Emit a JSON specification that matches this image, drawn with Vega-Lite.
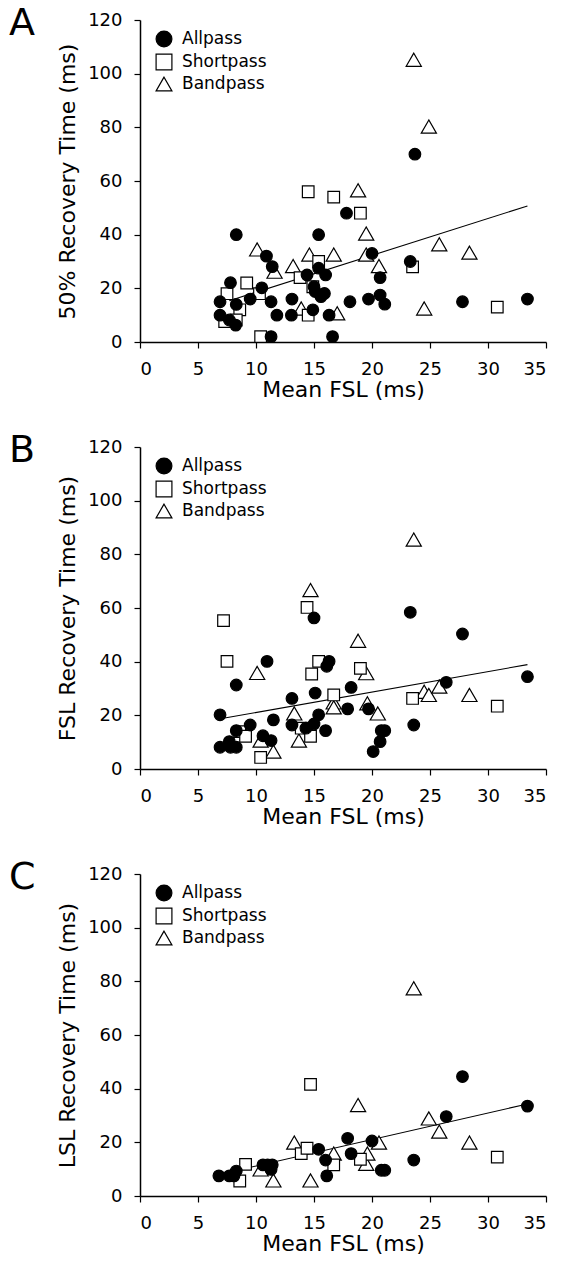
{
  "$schema": "https://vega.github.io/schema/vega-lite/v6.json",
  "padding": {"left": 9, "top": 5, "right": 5, "bottom": 5},
  "background": "white",
  "datasets": {
    "pts": [
      {"panel": "A", "group": "Shortpass", "fsl": 7.5, "rec": 18},
      {"panel": "A", "group": "Shortpass", "fsl": 7.3, "rec": 7.6},
      {"panel": "A", "group": "Shortpass", "fsl": 8.6, "rec": 12},
      {"panel": "A", "group": "Shortpass", "fsl": 8.3, "rec": 8.2},
      {"panel": "A", "group": "Shortpass", "fsl": 9.2, "rec": 22},
      {"panel": "A", "group": "Shortpass", "fsl": 10.4, "rec": 2},
      {"panel": "A", "group": "Shortpass", "fsl": 10.3, "rec": 18},
      {"panel": "A", "group": "Shortpass", "fsl": 13.8, "rec": 24},
      {"panel": "A", "group": "Shortpass", "fsl": 14.5, "rec": 56},
      {"panel": "A", "group": "Shortpass", "fsl": 14.5, "rec": 10},
      {"panel": "A", "group": "Shortpass", "fsl": 15.4, "rec": 30},
      {"panel": "A", "group": "Shortpass", "fsl": 14.9, "rec": 20.6},
      {"panel": "A", "group": "Shortpass", "fsl": 16.7, "rec": 54},
      {"panel": "A", "group": "Shortpass", "fsl": 19.0, "rec": 48},
      {"panel": "A", "group": "Shortpass", "fsl": 23.5, "rec": 28},
      {"panel": "A", "group": "Shortpass", "fsl": 30.8, "rec": 13},
      {"panel": "A", "group": "Bandpass", "fsl": 10.1, "rec": 34.5},
      {"panel": "A", "group": "Bandpass", "fsl": 11.6, "rec": 26.2},
      {"panel": "A", "group": "Bandpass", "fsl": 13.2, "rec": 28.3},
      {"panel": "A", "group": "Bandpass", "fsl": 13.9, "rec": 12.5},
      {"panel": "A", "group": "Bandpass", "fsl": 14.6, "rec": 32.6},
      {"panel": "A", "group": "Bandpass", "fsl": 16.7, "rec": 32.6},
      {"panel": "A", "group": "Bandpass", "fsl": 17.0, "rec": 10.7},
      {"panel": "A", "group": "Bandpass", "fsl": 18.8, "rec": 56.5},
      {"panel": "A", "group": "Bandpass", "fsl": 19.5, "rec": 40.4},
      {"panel": "A", "group": "Bandpass", "fsl": 19.5, "rec": 32.6},
      {"panel": "A", "group": "Bandpass", "fsl": 20.6, "rec": 28.3},
      {"panel": "A", "group": "Bandpass", "fsl": 23.6, "rec": 105.2},
      {"panel": "A", "group": "Bandpass", "fsl": 24.9, "rec": 80.3},
      {"panel": "A", "group": "Bandpass", "fsl": 24.5, "rec": 12.5},
      {"panel": "A", "group": "Bandpass", "fsl": 25.8, "rec": 36.4},
      {"panel": "A", "group": "Bandpass", "fsl": 28.4, "rec": 33.3},
      {"panel": "A", "group": "Allpass", "fsl": 6.9, "rec": 10},
      {"panel": "A", "group": "Allpass", "fsl": 6.9, "rec": 15},
      {"panel": "A", "group": "Allpass", "fsl": 7.7, "rec": 8.2},
      {"panel": "A", "group": "Allpass", "fsl": 8.25, "rec": 6.3},
      {"panel": "A", "group": "Allpass", "fsl": 7.8, "rec": 22.1},
      {"panel": "A", "group": "Allpass", "fsl": 8.3, "rec": 40},
      {"panel": "A", "group": "Allpass", "fsl": 8.3, "rec": 14},
      {"panel": "A", "group": "Allpass", "fsl": 9.5, "rec": 16},
      {"panel": "A", "group": "Allpass", "fsl": 10.5, "rec": 20.2},
      {"panel": "A", "group": "Allpass", "fsl": 10.9, "rec": 32},
      {"panel": "A", "group": "Allpass", "fsl": 11.4, "rec": 28.1},
      {"panel": "A", "group": "Allpass", "fsl": 11.3, "rec": 15},
      {"panel": "A", "group": "Allpass", "fsl": 11.3, "rec": 2},
      {"panel": "A", "group": "Allpass", "fsl": 11.8, "rec": 10},
      {"panel": "A", "group": "Allpass", "fsl": 13.1, "rec": 16},
      {"panel": "A", "group": "Allpass", "fsl": 13.05, "rec": 10},
      {"panel": "A", "group": "Allpass", "fsl": 14.4, "rec": 25},
      {"panel": "A", "group": "Allpass", "fsl": 14.9, "rec": 12},
      {"panel": "A", "group": "Allpass", "fsl": 15.4, "rec": 40},
      {"panel": "A", "group": "Allpass", "fsl": 15.4, "rec": 27.5},
      {"panel": "A", "group": "Allpass", "fsl": 15.0, "rec": 20.6},
      {"panel": "A", "group": "Allpass", "fsl": 15.1, "rec": 18.8},
      {"panel": "A", "group": "Allpass", "fsl": 15.6, "rec": 16.9},
      {"panel": "A", "group": "Allpass", "fsl": 15.9, "rec": 18.1},
      {"panel": "A", "group": "Allpass", "fsl": 16.0, "rec": 25},
      {"panel": "A", "group": "Allpass", "fsl": 16.3, "rec": 10},
      {"panel": "A", "group": "Allpass", "fsl": 16.6, "rec": 2},
      {"panel": "A", "group": "Allpass", "fsl": 17.8, "rec": 48},
      {"panel": "A", "group": "Allpass", "fsl": 18.1, "rec": 15},
      {"panel": "A", "group": "Allpass", "fsl": 19.7, "rec": 16},
      {"panel": "A", "group": "Allpass", "fsl": 20.0, "rec": 33},
      {"panel": "A", "group": "Allpass", "fsl": 20.7, "rec": 24},
      {"panel": "A", "group": "Allpass", "fsl": 20.7, "rec": 17.5},
      {"panel": "A", "group": "Allpass", "fsl": 21.1, "rec": 14.1},
      {"panel": "A", "group": "Allpass", "fsl": 23.3, "rec": 30},
      {"panel": "A", "group": "Allpass", "fsl": 23.7, "rec": 70},
      {"panel": "A", "group": "Allpass", "fsl": 27.8, "rec": 15},
      {"panel": "A", "group": "Allpass", "fsl": 33.4, "rec": 16},

      {"panel": "B", "group": "Shortpass", "fsl": 7.2, "rec": 55.3},
      {"panel": "B", "group": "Shortpass", "fsl": 7.5, "rec": 40.1},
      {"panel": "B", "group": "Shortpass", "fsl": 8.6, "rec": 13.9},
      {"panel": "B", "group": "Shortpass", "fsl": 9.1, "rec": 12.2},
      {"panel": "B", "group": "Shortpass", "fsl": 10.4, "rec": 4.3},
      {"panel": "B", "group": "Shortpass", "fsl": 13.9, "rec": 15.2},
      {"panel": "B", "group": "Shortpass", "fsl": 14.4, "rec": 60.2},
      {"panel": "B", "group": "Shortpass", "fsl": 14.8, "rec": 35.4},
      {"panel": "B", "group": "Shortpass", "fsl": 15.4, "rec": 40.1},
      {"panel": "B", "group": "Shortpass", "fsl": 14.7, "rec": 12.2},
      {"panel": "B", "group": "Shortpass", "fsl": 16.7, "rec": 27.6},
      {"panel": "B", "group": "Shortpass", "fsl": 19.0, "rec": 37.5},
      {"panel": "B", "group": "Shortpass", "fsl": 23.5, "rec": 26.3},
      {"panel": "B", "group": "Shortpass", "fsl": 30.8, "rec": 23.4},
      {"panel": "B", "group": "Bandpass", "fsl": 10.1, "rec": 35.8},
      {"panel": "B", "group": "Bandpass", "fsl": 10.4, "rec": 10.6},
      {"panel": "B", "group": "Bandpass", "fsl": 11.5, "rec": 6.5},
      {"panel": "B", "group": "Bandpass", "fsl": 13.3, "rec": 20.7},
      {"panel": "B", "group": "Bandpass", "fsl": 13.7, "rec": 10.6},
      {"panel": "B", "group": "Bandpass", "fsl": 14.7, "rec": 66.7},
      {"panel": "B", "group": "Bandpass", "fsl": 16.7, "rec": 24.8},
      {"panel": "B", "group": "Bandpass", "fsl": 16.7, "rec": 23},
      {"panel": "B", "group": "Bandpass", "fsl": 18.8, "rec": 47.8},
      {"panel": "B", "group": "Bandpass", "fsl": 19.5, "rec": 35.7},
      {"panel": "B", "group": "Bandpass", "fsl": 19.6, "rec": 24.5},
      {"panel": "B", "group": "Bandpass", "fsl": 20.5, "rec": 20.7},
      {"panel": "B", "group": "Bandpass", "fsl": 23.6, "rec": 85.5},
      {"panel": "B", "group": "Bandpass", "fsl": 24.5, "rec": 28.8},
      {"panel": "B", "group": "Bandpass", "fsl": 24.9, "rec": 27.6},
      {"panel": "B", "group": "Bandpass", "fsl": 25.8, "rec": 30.7},
      {"panel": "B", "group": "Bandpass", "fsl": 28.4, "rec": 27.6},
      {"panel": "B", "group": "Allpass", "fsl": 6.9, "rec": 20.2},
      {"panel": "B", "group": "Allpass", "fsl": 6.9, "rec": 8.1},
      {"panel": "B", "group": "Allpass", "fsl": 7.7, "rec": 10.2},
      {"panel": "B", "group": "Allpass", "fsl": 7.8, "rec": 8.1},
      {"panel": "B", "group": "Allpass", "fsl": 8.3, "rec": 8.1},
      {"panel": "B", "group": "Allpass", "fsl": 8.3, "rec": 14.3},
      {"panel": "B", "group": "Allpass", "fsl": 8.3, "rec": 31.3},
      {"panel": "B", "group": "Allpass", "fsl": 9.5, "rec": 16.4},
      {"panel": "B", "group": "Allpass", "fsl": 10.95, "rec": 40.1},
      {"panel": "B", "group": "Allpass", "fsl": 10.6, "rec": 12.4},
      {"panel": "B", "group": "Allpass", "fsl": 11.3, "rec": 10.6},
      {"panel": "B", "group": "Allpass", "fsl": 11.5, "rec": 18.3},
      {"panel": "B", "group": "Allpass", "fsl": 13.1, "rec": 26.3},
      {"panel": "B", "group": "Allpass", "fsl": 13.1, "rec": 16.4},
      {"panel": "B", "group": "Allpass", "fsl": 14.3, "rec": 15.2},
      {"panel": "B", "group": "Allpass", "fsl": 15.0, "rec": 56.3},
      {"panel": "B", "group": "Allpass", "fsl": 15.1, "rec": 28.3},
      {"panel": "B", "group": "Allpass", "fsl": 15.4, "rec": 20.2},
      {"panel": "B", "group": "Allpass", "fsl": 15.0, "rec": 16.8},
      {"panel": "B", "group": "Allpass", "fsl": 16.0, "rec": 14.3},
      {"panel": "B", "group": "Allpass", "fsl": 16.1, "rec": 38.3},
      {"panel": "B", "group": "Allpass", "fsl": 16.3, "rec": 40.1},
      {"panel": "B", "group": "Allpass", "fsl": 18.2, "rec": 30.4},
      {"panel": "B", "group": "Allpass", "fsl": 17.9, "rec": 22.4},
      {"panel": "B", "group": "Allpass", "fsl": 19.7, "rec": 22.4},
      {"panel": "B", "group": "Allpass", "fsl": 20.1, "rec": 6.5},
      {"panel": "B", "group": "Allpass", "fsl": 20.7, "rec": 10.2},
      {"panel": "B", "group": "Allpass", "fsl": 20.8, "rec": 14.3},
      {"panel": "B", "group": "Allpass", "fsl": 21.1, "rec": 14.3},
      {"panel": "B", "group": "Allpass", "fsl": 23.3, "rec": 58.4},
      {"panel": "B", "group": "Allpass", "fsl": 23.6, "rec": 16.4},
      {"panel": "B", "group": "Allpass", "fsl": 26.4, "rec": 32.3},
      {"panel": "B", "group": "Allpass", "fsl": 27.8, "rec": 50.3},
      {"panel": "B", "group": "Allpass", "fsl": 33.4, "rec": 34.4},

      {"panel": "C", "group": "Shortpass", "fsl": 8.6, "rec": 5.6},
      {"panel": "C", "group": "Shortpass", "fsl": 9.1, "rec": 11.8},
      {"panel": "C", "group": "Shortpass", "fsl": 13.9, "rec": 15.8},
      {"panel": "C", "group": "Shortpass", "fsl": 14.4, "rec": 17.8},
      {"panel": "C", "group": "Shortpass", "fsl": 14.7, "rec": 41.6},
      {"panel": "C", "group": "Shortpass", "fsl": 16.7, "rec": 11.6},
      {"panel": "C", "group": "Shortpass", "fsl": 19.0, "rec": 13.7},
      {"panel": "C", "group": "Shortpass", "fsl": 30.8, "rec": 14.5},
      {"panel": "C", "group": "Bandpass", "fsl": 10.4, "rec": 9.9},
      {"panel": "C", "group": "Bandpass", "fsl": 11.5, "rec": 5.8},
      {"panel": "C", "group": "Bandpass", "fsl": 13.3, "rec": 19.9},
      {"panel": "C", "group": "Bandpass", "fsl": 14.7, "rec": 5.8},
      {"panel": "C", "group": "Bandpass", "fsl": 16.7, "rec": 15.8},
      {"panel": "C", "group": "Bandpass", "fsl": 18.8, "rec": 33.9},
      {"panel": "C", "group": "Bandpass", "fsl": 19.5, "rec": 12},
      {"panel": "C", "group": "Bandpass", "fsl": 19.6, "rec": 15.8},
      {"panel": "C", "group": "Bandpass", "fsl": 20.6, "rec": 19.9},
      {"panel": "C", "group": "Bandpass", "fsl": 23.6, "rec": 77.4},
      {"panel": "C", "group": "Bandpass", "fsl": 24.9, "rec": 28.9},
      {"panel": "C", "group": "Bandpass", "fsl": 25.8, "rec": 24},
      {"panel": "C", "group": "Bandpass", "fsl": 28.4, "rec": 19.9},
      {"panel": "C", "group": "Allpass", "fsl": 6.8, "rec": 7.5},
      {"panel": "C", "group": "Allpass", "fsl": 7.7, "rec": 7.5},
      {"panel": "C", "group": "Allpass", "fsl": 8.1, "rec": 7.5},
      {"panel": "C", "group": "Allpass", "fsl": 8.3, "rec": 9.3},
      {"panel": "C", "group": "Allpass", "fsl": 10.6, "rec": 11.6},
      {"panel": "C", "group": "Allpass", "fsl": 11.0, "rec": 11.6},
      {"panel": "C", "group": "Allpass", "fsl": 11.4, "rec": 11.6},
      {"panel": "C", "group": "Allpass", "fsl": 11.3, "rec": 9.9},
      {"panel": "C", "group": "Allpass", "fsl": 15.4, "rec": 17.4},
      {"panel": "C", "group": "Allpass", "fsl": 16.0, "rec": 13.4},
      {"panel": "C", "group": "Allpass", "fsl": 16.1, "rec": 7.5},
      {"panel": "C", "group": "Allpass", "fsl": 17.9, "rec": 21.5},
      {"panel": "C", "group": "Allpass", "fsl": 18.2, "rec": 15.8},
      {"panel": "C", "group": "Allpass", "fsl": 20.0, "rec": 20.5},
      {"panel": "C", "group": "Allpass", "fsl": 20.8, "rec": 9.6},
      {"panel": "C", "group": "Allpass", "fsl": 21.1, "rec": 9.6},
      {"panel": "C", "group": "Allpass", "fsl": 23.6, "rec": 13.4},
      {"panel": "C", "group": "Allpass", "fsl": 26.4, "rec": 29.6},
      {"panel": "C", "group": "Allpass", "fsl": 27.8, "rec": 44.5},
      {"panel": "C", "group": "Allpass", "fsl": 33.4, "rec": 33.5}
    ],
    "fit": [
      {"panel": "A", "fsl": 7.7, "rec": 15.4},
      {"panel": "A", "fsl": 33.4, "rec": 50.7},
      {"panel": "B", "fsl": 7.3, "rec": 19.0},
      {"panel": "B", "fsl": 33.4, "rec": 38.9},
      {"panel": "C", "fsl": 8.4, "rec": 9.6},
      {"panel": "C", "fsl": 33.4, "rec": 34.3}
    ]
  },
  "spacing": 32,
  "resolve": {"legend": {"shape": "independent", "fill": "independent", "stroke": "independent"}, "scale": {"shape": "independent", "fill": "independent", "stroke": "independent"}},
  "vconcat": [
    {
      "title": {"text": "A"},
      "width": 406, "height": 322,
      "layer": [
        {
          "data": {"name": "fit"},
          "transform": [{"filter": "datum.panel === 'A'"}],
          "mark": {"type": "line", "color": "black", "strokeWidth": 1.1},
          "encoding": {
            "x": {"field": "fsl", "type": "quantitative", "title": "Mean FSL (ms)", "scale": {"domain": [0, 35], "nice": false}, "axis": {"values": [0,2.5,5,7.5,10,12.5,15,17.5,20,22.5,25,27.5,30,32.5,35], "labelExpr": "datum.value % 5 === 0 ? datum.label : ''", "tickSize": {"condition": {"test": "datum.value % 5 === 0", "value": 6}, "value": 3}}},
            "y": {"field": "rec", "type": "quantitative", "title": "50% Recovery Time (ms)", "scale": {"domain": [0, 120], "nice": false}, "axis": {"values": [0,10,20,30,40,50,60,70,80,90,100,110,120], "labelExpr": "datum.value % 20 === 0 ? datum.label : ''", "tickSize": {"condition": {"test": "datum.value % 20 === 0", "value": 6}, "value": 3}}}
          }
        },
        {
          "data": {"name": "pts"},
          "transform": [{"filter": "datum.panel === 'A' && datum.group === 'Bandpass'"}],
          "mark": {"type": "point", "filled": true, "strokeWidth": 1.2, "opacity": 1, "size": 230},
          "encoding": {
            "x": {"field": "fsl", "type": "quantitative"},
            "y": {"field": "rec", "type": "quantitative"},
            "shape": {"field": "group", "type": "nominal", "scale": {"domain": ["Allpass", "Shortpass", "Bandpass"], "range": ["circle", "square", "triangle-up"]}, "legend": {"title": null}},
            "fill": {"field": "group", "type": "nominal", "scale": {"domain": ["Allpass", "Shortpass", "Bandpass"], "range": ["black", "white", "white"]}, "legend": {"title": null}},
            "stroke": {"field": "group", "type": "nominal", "scale": {"domain": ["Allpass", "Shortpass", "Bandpass"], "range": ["black", "black", "black"]}, "legend": {"title": null}}
          }
        },
        {
          "data": {"name": "pts"},
          "transform": [{"filter": "datum.panel === 'A' && datum.group !== 'Bandpass'"}],
          "mark": {"type": "point", "filled": true, "strokeWidth": 1.2, "opacity": 1, "size": 135},
          "encoding": {
            "x": {"field": "fsl", "type": "quantitative"},
            "y": {"field": "rec", "type": "quantitative"},
            "shape": {"field": "group", "type": "nominal", "scale": {"domain": ["Allpass", "Shortpass", "Bandpass"], "range": ["circle", "square", "triangle-up"]}, "legend": {"title": null}},
            "fill": {"field": "group", "type": "nominal", "scale": {"domain": ["Allpass", "Shortpass", "Bandpass"], "range": ["black", "white", "white"]}, "legend": {"title": null}},
            "stroke": {"field": "group", "type": "nominal", "scale": {"domain": ["Allpass", "Shortpass", "Bandpass"], "range": ["black", "black", "black"]}, "legend": {"title": null}}
          }
        }
      ]
    },
    {
      "title": {"text": "B"},
      "width": 406, "height": 322,
      "layer": [
        {
          "data": {"name": "fit"},
          "transform": [{"filter": "datum.panel === 'B'"}],
          "mark": {"type": "line", "color": "black", "strokeWidth": 1.1},
          "encoding": {
            "x": {"field": "fsl", "type": "quantitative", "title": "Mean FSL (ms)", "scale": {"domain": [0, 35], "nice": false}, "axis": {"values": [0,2.5,5,7.5,10,12.5,15,17.5,20,22.5,25,27.5,30,32.5,35], "labelExpr": "datum.value % 5 === 0 ? datum.label : ''", "tickSize": {"condition": {"test": "datum.value % 5 === 0", "value": 6}, "value": 3}}},
            "y": {"field": "rec", "type": "quantitative", "title": "FSL Recovery Time (ms)", "scale": {"domain": [0, 120], "nice": false}, "axis": {"values": [0,10,20,30,40,50,60,70,80,90,100,110,120], "labelExpr": "datum.value % 20 === 0 ? datum.label : ''", "tickSize": {"condition": {"test": "datum.value % 20 === 0", "value": 6}, "value": 3}}}
          }
        },
        {
          "data": {"name": "pts"},
          "transform": [{"filter": "datum.panel === 'B' && datum.group === 'Bandpass'"}],
          "mark": {"type": "point", "filled": true, "strokeWidth": 1.2, "opacity": 1, "size": 230},
          "encoding": {
            "x": {"field": "fsl", "type": "quantitative"},
            "y": {"field": "rec", "type": "quantitative"},
            "shape": {"field": "group", "type": "nominal", "scale": {"domain": ["Allpass", "Shortpass", "Bandpass"], "range": ["circle", "square", "triangle-up"]}, "legend": {"title": null}},
            "fill": {"field": "group", "type": "nominal", "scale": {"domain": ["Allpass", "Shortpass", "Bandpass"], "range": ["black", "white", "white"]}, "legend": {"title": null}},
            "stroke": {"field": "group", "type": "nominal", "scale": {"domain": ["Allpass", "Shortpass", "Bandpass"], "range": ["black", "black", "black"]}, "legend": {"title": null}}
          }
        },
        {
          "data": {"name": "pts"},
          "transform": [{"filter": "datum.panel === 'B' && datum.group !== 'Bandpass'"}],
          "mark": {"type": "point", "filled": true, "strokeWidth": 1.2, "opacity": 1, "size": 135},
          "encoding": {
            "x": {"field": "fsl", "type": "quantitative"},
            "y": {"field": "rec", "type": "quantitative"},
            "shape": {"field": "group", "type": "nominal", "scale": {"domain": ["Allpass", "Shortpass", "Bandpass"], "range": ["circle", "square", "triangle-up"]}, "legend": {"title": null}},
            "fill": {"field": "group", "type": "nominal", "scale": {"domain": ["Allpass", "Shortpass", "Bandpass"], "range": ["black", "white", "white"]}, "legend": {"title": null}},
            "stroke": {"field": "group", "type": "nominal", "scale": {"domain": ["Allpass", "Shortpass", "Bandpass"], "range": ["black", "black", "black"]}, "legend": {"title": null}}
          }
        }
      ]
    },
    {
      "title": {"text": "C"},
      "width": 406, "height": 322,
      "layer": [
        {
          "data": {"name": "fit"},
          "transform": [{"filter": "datum.panel === 'C'"}],
          "mark": {"type": "line", "color": "black", "strokeWidth": 1.1},
          "encoding": {
            "x": {"field": "fsl", "type": "quantitative", "title": "Mean FSL (ms)", "scale": {"domain": [0, 35], "nice": false}, "axis": {"values": [0,2.5,5,7.5,10,12.5,15,17.5,20,22.5,25,27.5,30,32.5,35], "labelExpr": "datum.value % 5 === 0 ? datum.label : ''", "tickSize": {"condition": {"test": "datum.value % 5 === 0", "value": 6}, "value": 3}}},
            "y": {"field": "rec", "type": "quantitative", "title": "LSL Recovery Time (ms)", "scale": {"domain": [0, 120], "nice": false}, "axis": {"values": [0,10,20,30,40,50,60,70,80,90,100,110,120], "labelExpr": "datum.value % 20 === 0 ? datum.label : ''", "tickSize": {"condition": {"test": "datum.value % 20 === 0", "value": 6}, "value": 3}}}
          }
        },
        {
          "data": {"name": "pts"},
          "transform": [{"filter": "datum.panel === 'C' && datum.group === 'Bandpass'"}],
          "mark": {"type": "point", "filled": true, "strokeWidth": 1.2, "opacity": 1, "size": 230},
          "encoding": {
            "x": {"field": "fsl", "type": "quantitative"},
            "y": {"field": "rec", "type": "quantitative"},
            "shape": {"field": "group", "type": "nominal", "scale": {"domain": ["Allpass", "Shortpass", "Bandpass"], "range": ["circle", "square", "triangle-up"]}, "legend": {"title": null}},
            "fill": {"field": "group", "type": "nominal", "scale": {"domain": ["Allpass", "Shortpass", "Bandpass"], "range": ["black", "white", "white"]}, "legend": {"title": null}},
            "stroke": {"field": "group", "type": "nominal", "scale": {"domain": ["Allpass", "Shortpass", "Bandpass"], "range": ["black", "black", "black"]}, "legend": {"title": null}}
          }
        },
        {
          "data": {"name": "pts"},
          "transform": [{"filter": "datum.panel === 'C' && datum.group !== 'Bandpass'"}],
          "mark": {"type": "point", "filled": true, "strokeWidth": 1.2, "opacity": 1, "size": 135},
          "encoding": {
            "x": {"field": "fsl", "type": "quantitative"},
            "y": {"field": "rec", "type": "quantitative"},
            "shape": {"field": "group", "type": "nominal", "scale": {"domain": ["Allpass", "Shortpass", "Bandpass"], "range": ["circle", "square", "triangle-up"]}, "legend": {"title": null}},
            "fill": {"field": "group", "type": "nominal", "scale": {"domain": ["Allpass", "Shortpass", "Bandpass"], "range": ["black", "white", "white"]}, "legend": {"title": null}},
            "stroke": {"field": "group", "type": "nominal", "scale": {"domain": ["Allpass", "Shortpass", "Bandpass"], "range": ["black", "black", "black"]}, "legend": {"title": null}}
          }
        }
      ]
    }
  ],
  "config": {
    "font": "DejaVu Sans",
    "view": {"stroke": null},
    "title": {"anchor": "start", "frame": "group", "fontSize": 38, "fontWeight": "normal", "color": "black", "dx": -131, "offset": -32, "baseline": "alphabetic"},
    "axis": {"grid": false, "domainColor": "black", "domainWidth": 1.5, "tickColor": "black", "tickWidth": 1.2, "labelColor": "black", "titleColor": "black", "labelFontSize": 18, "titleFontSize": 22, "titleFontWeight": "normal", "labelPadding": 12, "labelFont": "DejaVu Sans", "titleFont": "DejaVu Sans"},
    "axisY": {"titlePadding": 8},
    "axisX": {"titlePadding": 1},
    "legend": {"orient": "none", "legendX": 15, "legendY": 10, "padding": 0, "labelFontSize": 17, "labelColor": "black", "symbolSize": 250, "symbolStrokeWidth": 1.2, "rowPadding": 1, "labelOffset": 9, "labelFont": "DejaVu Sans"}
  }
}
